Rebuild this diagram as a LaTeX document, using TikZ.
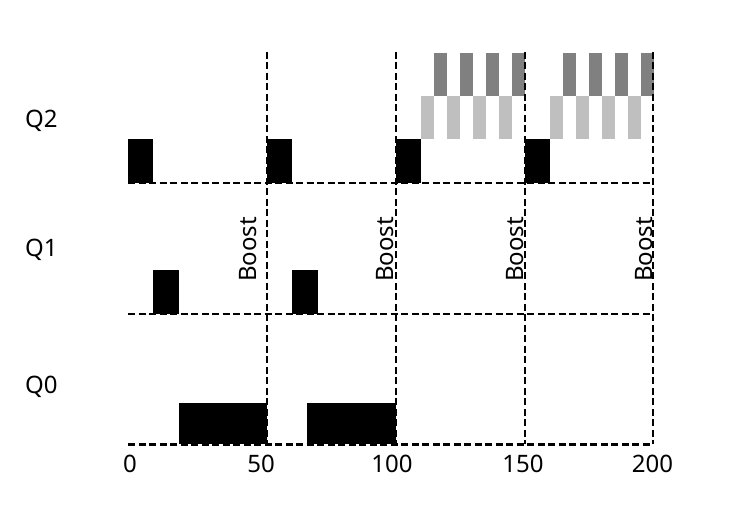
\documentclass[tikz,border=0pt]{standalone}
\usepackage{fontspec}
\setmainfont{Noto Sans}
\begin{document}
\begin{tikzpicture}[x=1pt,y=1pt,
  grid/.style={line width=2.8pt, dash pattern=on 7pt off 3.5pt},
  run/.style={fill=black},
  lgt/.style={fill=black!25},
  drk/.style={fill=black!50},
  qlab/.style={font=\fontsize{24}{24}\selectfont, anchor=base west, inner sep=0pt},
  tlab/.style={font=\fontsize{24}{24}\selectfont, anchor=base, inner sep=0pt},
  blab/.style={font=\fontsize{24}{24}\selectfont, anchor=base west, inner sep=0pt, rotate=90}]
\useasboundingbox (0,0) rectangle (742,508);
% black run boxes
\fill[run] (128,325) rectangle (153,368.5);
\fill[run] (267,325) rectangle (292,368.5);
\fill[run] (396,325) rectangle (421,368.5);
\fill[run] (525,325) rectangle (550,368.5);
\fill[run] (153,194) rectangle (179,238);
\fill[run] (292,194) rectangle (318,238);
\fill[run] (179,63.5) rectangle (266.5,105);
\fill[run] (307,63.5) rectangle (395.5,105);
% gray slices
\foreach \s in {421,550}{
  \foreach \k in {0,1,2,3}{
    \fill[lgt] ({\s+26*\k},368.5) rectangle ({\s+26*\k+13},411.5);
    \fill[drk] ({\s+26*\k+13},411.5) rectangle ({\s+26*\k+26},455);
  }
}
% baselines
\coordinate (b2l) at (128,325); \coordinate (b2r) at (653,325);
\coordinate (b1l) at (128,194); \coordinate (b1r) at (653,194);
\coordinate (b0l) at (128,63.5); \coordinate (b0r) at (653,63.5);
\draw[grid] (b2l) -- (b2r);
\draw[grid] (b1l) -- (b1r);
\draw[grid] (b0l) -- (b0r);
% boost lines
\foreach \x/\n in {267/a,396/b,525/c,653/d}{
  \coordinate (t\n) at (\x,456);
  \coordinate (u\n) at (\x,63.5);
  \draw[grid] (t\n) -- (u\n);
}
% labels
\node[qlab] (q2) at (25,380.5) {Q2};
\node[qlab] (q1) at (25,251) {Q1};
\node[qlab] (q0) at (25,114) {Q0};
\node[tlab] (x0) at (130,35) {0};
\node[tlab] (x50) at (261,35) {50};
\node[tlab] (x100) at (392,35) {100};
\node[tlab] (x150) at (523,35) {150};
\node[tlab] (x200) at (652.5,35) {200};
\node[blab] (bo1) at (256,226) {Boost};
\node[blab] (bo2) at (393,226) {Boost};
\node[blab] (bo3) at (523,226) {Boost};
\node[blab] (bo4) at (652,226) {Boost};
\end{tikzpicture}
\end{document}
